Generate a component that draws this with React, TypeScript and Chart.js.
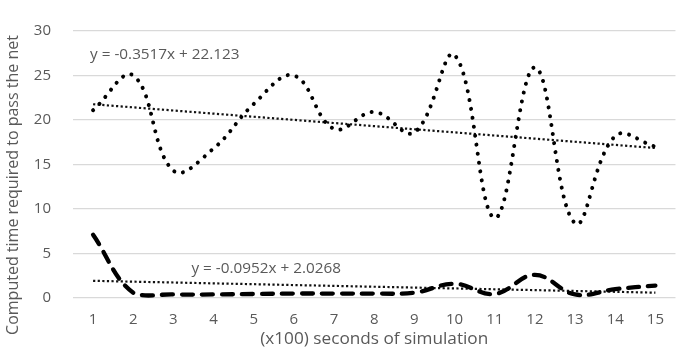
import React, { useEffect, useRef } from "react";
import { Chart, registerables } from "chart.js";

Chart.register(...registerables);

const categories = ["1", "2", "3", "4", "5", "6", "7", "8", "9", "10", "11", "12", "13", "14", "15"];
const seriesDotted = [21.1, 25.0, 14.3, 16.8, 21.8, 25.0, 19.0, 20.9, 18.6, 27.3, 9.0, 25.9, 8.4, 18.2, 17.0];
const seriesDashed = [7.1, 0.6, 0.4, 0.4, 0.45, 0.5, 0.5, 0.5, 0.6, 1.6, 0.45, 2.6, 0.4, 1.0, 1.4];
// trendline endpoints (from y = -0.3517x + 22.123 and y = -0.0952x + 2.0268)
const trendDotted = [21.77, null, null, null, null, null, null, null, null, null, null, null, null, null, 16.85];
const trendDashed = [1.93, null, null, null, null, null, null, null, null, null, null, null, null, null, 0.60];
const trendLabels = ["y = -0.3517x + 22.123", "y = -0.0952x + 2.0268"];
const yTicks = [0, 5, 10, 15, 20, 25, 30];
const xTitle = "(x100) seconds of simulation";
const yTitle = "Computed time required to pass the net";

const FONT = "'Open Sans', sans-serif";
const GRAY = "#595959";

export default function App() {
  const ref = useRef<HTMLCanvasElement>(null);
  useEffect(() => {
    document.body.style.margin = "0";
    const labelsPlugin = {
      id: "labelsPlugin",
      afterDraw(chart: any) {
        const { ctx, scales } = chart;
        const x = scales.x, y = scales.y;
        ctx.save();
        ctx.fillStyle = GRAY;
        ctx.font = `15.3px ${FONT}`;
        ctx.textBaseline = "middle";
        ctx.textAlign = "left";
        ctx.fillText(trendLabels[0], x.getPixelForValue(0) - 3, y.getPixelForValue(27.3));
        ctx.fillText(trendLabels[1], x.getPixelForValue(2.45), y.getPixelForValue(3.25));
        // y title
        ctx.font = `16px ${FONT}`;
        ctx.translate(13, 185);
        ctx.rotate(-Math.PI / 2);
        ctx.textAlign = "center";
        ctx.fillText(yTitle, 0, 0);
        ctx.restore();
      },
    };
    const chart = new Chart(ref.current!, {
      type: "line",
      data: {
        labels: categories,
        datasets: [
          {
            data: seriesDotted,
            borderColor: "#000",
            borderWidth: 4,
            borderCapStyle: "round",
            borderDash: [0.01, 9],
            tension: 0.4,
            pointRadius: 0,
            fill: false,
          },
          {
            data: seriesDashed,
            borderColor: "#000",
            borderWidth: 4.3,
            borderCapStyle: "round",
            borderDash: [11, 9],
            tension: 0.4,
            pointRadius: 0,
            fill: false,
          },
          {
            data: trendDotted,
            borderColor: "#111",
            borderWidth: 2.2,
            borderCapStyle: "butt",
            borderDash: [2.2, 2.4],
            spanGaps: true,
            tension: 0,
            pointRadius: 0,
            fill: false,
          },
          {
            data: trendDashed,
            borderColor: "#111",
            borderWidth: 2.2,
            borderCapStyle: "butt",
            borderDash: [2.2, 2.4],
            spanGaps: true,
            tension: 0,
            pointRadius: 0,
            fill: false,
          },
        ] as any,
      },
      options: {
        animation: false,
        responsive: false,
        maintainAspectRatio: false,
        layout: { padding: { top: 20, right: 1, left: 0, bottom: 0 } },
        plugins: { legend: { display: false }, tooltip: { enabled: false }, title: { display: false } },
        scales: {
          x: {
            offset: true,
            grid: { display: false, drawTicks: false },
            border: { display: false },
            ticks: { color: GRAY, font: { family: FONT, size: 15 }, padding: 13, maxRotation: 0 },
            title: {
              display: true,
              text: xTitle,
              color: GRAY,
              font: { family: FONT, size: 17.2 },
              padding: { top: 0, bottom: 3 },
            },
            afterFit(scale: any) {
              scale.height = 54;
            },
          },
          y: {
            min: 0,
            max: 30,
            afterBuildTicks(scale: any) {
              scale.ticks = yTicks.map((v) => ({ value: v }));
            },
            grid: { color: "#d9d9d9", lineWidth: 1.3, drawTicks: false },
            border: { display: false },
            ticks: { color: GRAY, font: { family: FONT, size: 15 }, padding: 22 },
            afterFit(scale: any) {
              scale.width = 73;
            },
          },
        },
      },
      plugins: [labelsPlugin],
    });
    return () => chart.destroy();
  }, []);
  return (
    <div style={{ width: 677, height: 352, background: "#fff" }}>
      <canvas ref={ref} width={677} height={352} style={{ display: "block" }} />
    </div>
  );
}
